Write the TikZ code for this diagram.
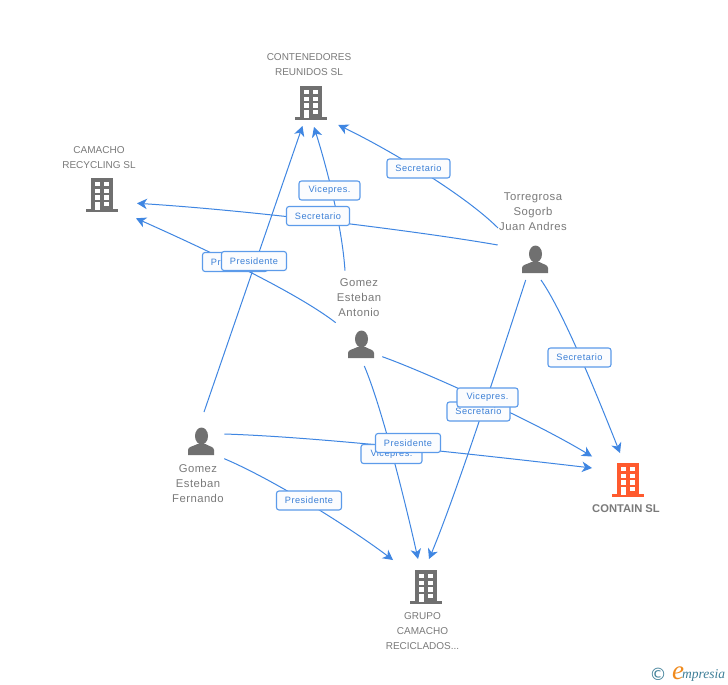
\documentclass[tikz,border=0pt]{standalone}
\usepackage{fontspec}
\setmainfont{Liberation Sans}
\newfontfamily\logofont{Liberation Serif}
\newfontfamily\symfont{DejaVu Sans}
\usetikzlibrary{arrows.meta,calc,backgrounds}
\definecolor{edgeblue}{HTML}{3F86E2}
\definecolor{boxblue}{HTML}{5C9BEA}
\definecolor{labelblue}{HTML}{3B7FD6}
\definecolor{labelfill}{HTML}{FBFCFE}
\definecolor{icongray}{HTML}{707070}
\definecolor{txtgray}{HTML}{7A7A7A}
\definecolor{orangeicon}{HTML}{FF5A2E}
\definecolor{logoteal}{HTML}{3F7F98}
\definecolor{logoorange}{HTML}{F08A1C}
\tikzset{
  x=1pt,y=-1pt,
  edge/.style={draw=edgeblue,line width=1pt,-{Stealth[length=10pt,width=10.5pt,inset=3pt]}},
  rel/.style={draw=boxblue,line width=1.1pt,fill=labelfill,rounded corners=2.5pt,text=labelblue,
    font=\fontsize{9.2}{11}\selectfont\addfontfeatures{LetterSpace=5},inner sep=0pt,minimum height=19pt},
  relP/.style={rel,minimum width=65pt},
  relV/.style={rel,minimum width=61pt},
  relS/.style={rel,minimum width=63pt},
  co/.style={align=center,text=txtgray,font=\fontsize{10}{15}\selectfont,inner sep=0pt},
  pe/.style={align=center,text=txtgray,font=\fontsize{11.3}{15}\selectfont\addfontfeatures{LetterSpace=4},inner sep=0pt},
  anchorbox/.style={minimum width=30pt,minimum height=30pt,inner sep=0pt},
  building/.pic={
    \fill[pic actions] (-11,-17) rectangle (11,15);
    \fill[pic actions] (-16,14.4) rectangle (16,17);
    \foreach \yy in {-13,-6.4,0.4}{
      \fill[white] (-7,\yy) rectangle (-2,\yy+4.4);
      \fill[white] (2.3,\yy) rectangle (7.3,\yy+4.4);
    }
    \fill[white] (-7,7) rectangle (-2,15);
    \fill[white] (2.3,7) rectangle (7.3,11.3);
  },
  person/.pic={
    \fill[pic actions] (0.5,-5) ellipse (6.5 and 8.5);
    \fill[pic actions] (-13,14) -- (-13,9) .. controls (-13,5.5) and (-8,5.5) .. (-3.5,3)
      -- (4.5,3) .. controls (8,5.5) and (13,5.5) .. (13,9) -- (13,14) -- cycle;
  }
}
\begin{document}
\begin{tikzpicture}
\useasboundingbox (0,0) rectangle (728,685);
% entities
\node[anchorbox] (contenedores) at (311,103) {};
\pic[fill=icongray] at (contenedores) {building};
\node[co] (contenedorestxt) at (309,64.5) {CONTENEDORES\\REUNIDOS SL};
\node[anchorbox] (camacho) at (102,195) {};
\pic[fill=icongray] at (camacho) {building};
\node[co] (camachotxt) at (99,157.5) {CAMACHO\\RECYCLING SL};
\node[anchorbox] (grupo) at (425.5,587) {};
\pic[fill=icongray] at (grupo) {building};
\node[co] (grupotxt) at (422.5,631) {GRUPO\\CAMACHO\\RECICLADOS...};
\node[anchorbox] (contain) at (628,480) {};
\pic[fill=orangeicon] at (contain) {building};
\node[co,font=\fontsize{11.2}{13}\selectfont\bfseries] (containtxt) at (626,509) {CONTAIN SL};
\node[anchorbox] (torregrosa) at (535,259) {};
\pic[fill=icongray] at (torregrosa) {person};
\node[pe] (torregrosatxt) at (533,212) {Torregrosa\\Sogorb\\Juan Andres};
\node[anchorbox] (antonio) at (361,344) {};
\pic[fill=icongray] at (antonio) {person};
\node[pe] (antoniotxt) at (359,298) {Gomez\\Esteban\\Antonio};
\node[anchorbox] (fernando) at (201,441) {};
\pic[fill=icongray] at (fernando) {person};
\node[pe] (fernandotxt) at (198,484) {Gomez\\Esteban\\Fernando};
% relation labels
\node[relP] (l5) at (235,262) {Presidente};
\node[relP] (l1) at (254,261) {Presidente};
\node[relV] (l2) at (329.5,190.5) {Vicepres.};
\node[relS] (l3) at (418.5,168.5) {Secretario};
\node[relS] (l4) at (318,216) {Secretario};
\node[relS] (l8) at (478.5,411.5) {Secretario};
\node[relV] (l6) at (487.5,397.5) {Vicepres.};
\node[relS] (l9) at (579.5,357.5) {Secretario};
\node[relV] (l7) at (391.5,454) {Vicepres.};
\node[relP] (l10) at (408,443) {Presidente};
\node[relP] (l11) at (309,500.5) {Presidente};
% connectors
\begin{scope}[on background layer]
\fill[white] (0,0) rectangle (728,685);
\draw[edge] ($(fernando)+(3,-29)$) -- ($(contenedores)+(-8.5,23)$);
\draw[edge] ($(antonio)+(-16,-73.3)$) .. controls (342,225) and (326,165) .. ($(contenedores)+(3,24)$);
\draw[edge] ($(torregrosa)+(-37,-31)$) .. controls (465,195) and (390,150) .. ($(contenedores)+(27.3,22)$);
\draw[edge] ($(torregrosa)+(-37.3,-14)$) .. controls (430,233) and (260,211) .. ($(camacho)+(35,8.3)$);
\draw[edge] ($(antonio)+(-25.3,-21.3)$) .. controls (291,288) and (180,238) .. ($(camacho)+(34,23.3)$);
\draw[edge] ($(antonio)+(21.3,12.7)$) .. controls (420,370) and (530,419) .. ($(contain)+(-36,-23.5)$);
\draw[edge] ($(antonio)+(3.3,22)$) .. controls (383,410) and (408,514) .. ($(grupo)+(-7.5,-28)$);
\draw[edge] ($(torregrosa)+(-9.3,21)$) .. controls (505,344) and (456,495) .. ($(grupo)+(3.5,-28)$);
\draw[edge] ($(torregrosa)+(6,21)$) .. controls (562,310) and (593,385) .. ($(contain)+(-8,-27)$);
\draw[edge] ($(fernando)+(23.3,-7)$) .. controls (320,437) and (480,455) .. ($(contain)+(-36,-12)$);
\draw[edge] ($(fernando)+(23.3,17.7)$) .. controls (270,478) and (345,524) .. ($(grupo)+(-32.5,-27)$);
\end{scope}
% logo
\node[inner sep=0pt,text=logoteal,font=\symfont\fontsize{17}{17}\selectfont] (copyr) at (658,674) {©};
\node[inner sep=0pt,text=logoorange,font=\logofont\itshape\fontsize{27}{27}\selectfont] (logoe) at (678,673.5) {e};
\node[inner sep=0pt,anchor=west,text=logoteal,font=\logofont\itshape\fontsize{13.5}{14}\selectfont] (logotxt) at (682,675) {mpresia};
\end{tikzpicture}
\end{document}
